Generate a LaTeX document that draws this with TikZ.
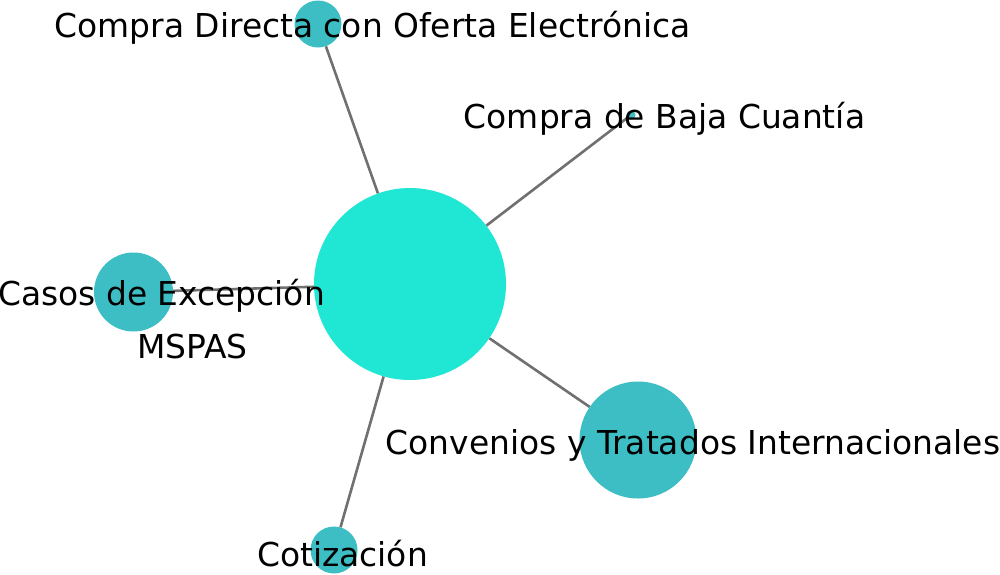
\documentclass[tikz,border=0pt]{standalone}
\usepackage{fontspec}
\setmainfont{DejaVu Sans}
\definecolor{hubc}{HTML}{20E6D4}
\definecolor{leafc}{HTML}{3CBEC4}
\definecolor{edgec}{HTML}{707070}
\begin{document}
\begin{tikzpicture}[x=1pt,y=-1pt,
  hub/.style={circle,fill=hubc,inner sep=0pt,minimum size=#1},
  leaf/.style={circle,fill=leafc,inner sep=0pt,minimum size=#1},
  edge/.style={draw=edgec,line width=2.6pt},
  lbl/.style={anchor=base,inner sep=0pt,font=\fontsize{32.9}{39}\selectfont,text=black}]
\useasboundingbox (0,0) rectangle (1000,574);
\node[hub=192pt] (c) at (410,284) {};
\node[leaf=47pt] (dir) at (318,24) {};
\node[leaf=9pt] (baja) at (631,115) {};
\node[leaf=79pt] (casos) at (133.5,292) {};
\node[leaf=117pt] (conv) at (638,440) {};
\node[leaf=47pt] (cot) at (334,550) {};
\draw[edge] (c) -- (dir);
\draw[edge] (c) -- (baja);
\draw[edge] (c) -- (casos);
\draw[edge] (c) -- (conv);
\draw[edge] (c) -- (cot);
\node[lbl] (tdir) at (372.5,37) {Compra Directa con Oferta Electrónica};
\node[lbl] (tbaja) at (664.5,128) {Compra de Baja Cuantía};
\node[lbl] (tcasos) at (161.5,305) {Casos de Excepción};
\node[lbl] (tc) at (192.5,358) {MSPAS};
\node[lbl] (tconv) at (693,454) {Convenios y Tratados Internacionales};
\node[lbl] (tcot) at (342.5,566.5) {Cotización};
\end{tikzpicture}
\end{document}
